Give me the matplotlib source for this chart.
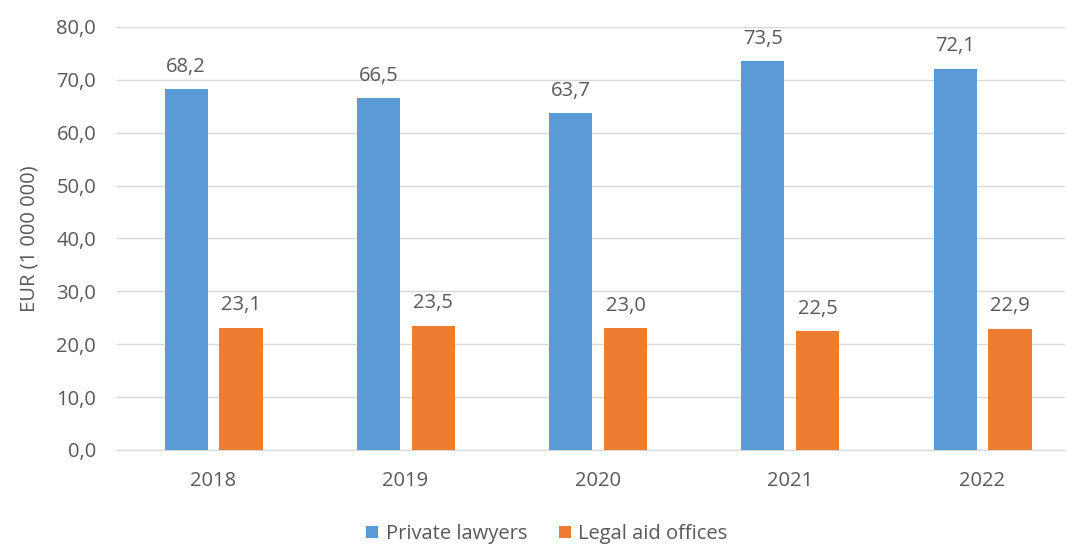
import matplotlib
matplotlib.use("Agg")
import matplotlib.pyplot as plt
import numpy as np

years = ["2018", "2019", "2020", "2021", "2022"]
private_lawyers = [68.2, 66.5, 63.7, 73.5, 72.1]
legal_aid_offices = [23.1, 23.5, 23.0, 22.5, 22.9]
series_names = ["Private lawyers", "Legal aid offices"]
ylabel = "EUR (1 000 000)"

plt.rcParams['font.family'] = ['Open Sans', 'DejaVu Sans']
txt = '#595959'
fs = 14.5

fig = plt.figure(figsize=(10.68, 5.46), dpi=100)
W, H = 1068, 546
ax = fig.add_axes([117/W, 1-450/H, (1065-117)/W, (450-27)/H])

x = np.arange(len(years))
bw = 0.224
b1 = ax.bar(x - 0.14, private_lawyers, bw, color='#5B9BD5', label=series_names[0], zorder=3)
b2 = ax.bar(x + 0.145, legal_aid_offices, bw, color='#ED7D31', label=series_names[1], zorder=3)

fmt = lambda v: f"{v:.1f}".replace('.', ',')
for bars, vals in ((b1, private_lawyers), (b2, legal_aid_offices)):
    for r, v in zip(bars, vals):
        ax.annotate(fmt(v), (r.get_x() + r.get_width()/2, v), xytext=(0, 9),
                    textcoords='offset points', ha='center', va='bottom',
                    fontsize=fs, color=txt)

ax.set_ylim(0, 80)
ax.set_yticks(np.arange(0, 81, 10))
ax.set_yticklabels([fmt(v) for v in np.arange(0, 81, 10)], fontsize=fs, color=txt)
ax.set_xlim(-0.5, (1065-117)/192.25 - 0.5)
ax.set_xticks(x)
ax.set_xticklabels(years, fontsize=fs, color=txt)
ax.tick_params(axis='y', length=0, pad=15)
ax.tick_params(axis='x', length=0, pad=15)
ax.grid(axis='y', color='#D9D9D9', linewidth=1, zorder=0)
for s in ['top', 'right', 'left']:
    ax.spines[s].set_visible(False)
ax.spines['bottom'].set_color('#D9D9D9')
ax.set_ylabel(ylabel, fontsize=fs, color=txt, labelpad=12)

fig.legend(handles=[b1, b2], labels=series_names, loc='center', bbox_to_anchor=(547/W, 1-534/H),
           ncol=2, frameon=False, fontsize=fs, labelcolor=txt, handlelength=0.6,
           handleheight=0.6, handletextpad=0.35, columnspacing=1.6)

fig.savefig("out.png", dpi=100)
